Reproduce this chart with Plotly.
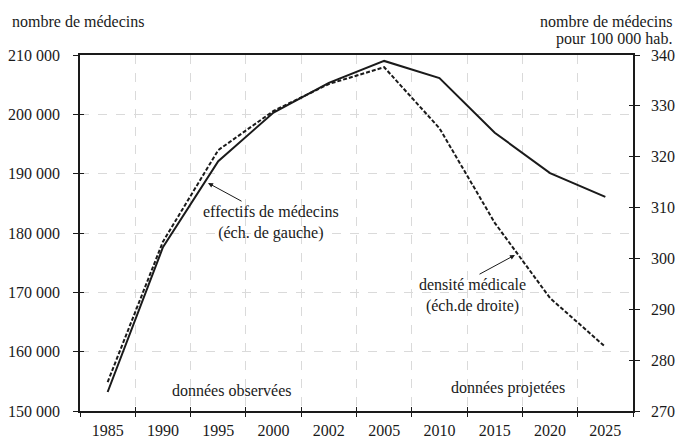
import plotly.graph_objects as go

years = ["1985", "1990", "1995", "2000", "2002", "2005", "2010", "2015", "2020", "2025"]
effectifs = [153200, 177600, 192100, 200300, 205300, 209000, 206100, 196900, 190100, 186100]
densite = [275.7, 303.3, 321.3, 329.0, 334.3, 337.6, 325.6, 307.0, 292.2, 282.6]

left_ticks = [150000, 160000, 170000, 180000, 190000, 200000, 210000]
left_text = ["150 000", "160 000", "170 000", "180 000", "190 000", "200 000", "210 000"]
right_ticks = [270, 280, 290, 300, 310, 320, 330, 340]

FONT = "Liberation Serif"
INK = "#1a1a1a"

# plot area in pixels (for annotation placement)
L, R, T, B = 80, 633, 55, 411
W, H = R - L, B - T


def px(x):
    return (x - L) / W


def py(y):
    return (B - y) / H


fig = go.Figure()
fig.add_trace(go.Scatter(x=years, y=effectifs, mode="lines", yaxis="y",
                         line=dict(color=INK, width=2), showlegend=False))
fig.add_trace(go.Scatter(x=years, y=densite, mode="lines", yaxis="y2",
                         line=dict(color=INK, width=2, dash="4px,2px"), showlegend=False))
# invisible traces for the tick-crossing overlay axes
fig.add_trace(go.Scatter(x=years, y=[None] * len(years), xaxis="x2", yaxis="y3",
                         showlegend=False, hoverinfo="skip"))
fig.add_trace(go.Scatter(x=years, y=[None] * len(years), xaxis="x2", yaxis="y4",
                         showlegend=False, hoverinfo="skip"))

axis_font = dict(family=FONT, size=16, color=INK)
GRID = "#dadada"

fig.update_layout(
    width=681, height=442,
    margin=dict(l=L, r=681 - R, t=T, b=442 - B, autoexpand=False),
    paper_bgcolor="white", plot_bgcolor="white",
    font=axis_font,
    xaxis=dict(type="category", categoryorder="array", categoryarray=years,
               range=[-0.5, len(years) - 0.5], tickson="boundaries",
               ticks="outside", ticklen=4, tickcolor=INK, tickwidth=1,
               ticklabelstandoff=4, automargin=False,
               showline=True, linecolor=INK, linewidth=1.5, mirror=True,
               showgrid=True, gridcolor=GRID, griddash="dash", gridwidth=1,
               tickfont=axis_font, zeroline=False),
    xaxis2=dict(type="category", categoryorder="array", categoryarray=years,
                range=[-0.5, len(years) - 0.5], tickson="boundaries",
                overlaying="x", side="bottom", anchor="y", automargin=False,
                ticks="inside", ticklen=4, tickcolor=INK, tickwidth=1,
                showticklabels=False, showgrid=False, showline=False, zeroline=False),
    yaxis=dict(range=[150000, 210000], tickvals=left_ticks, ticktext=left_text,
               ticks="outside", ticklen=5, tickcolor=INK, tickwidth=1,
               ticklabelstandoff=10, automargin=False,
               showline=True, linecolor=INK, linewidth=1.5,
               showgrid=True, gridcolor=GRID, griddash="dash", gridwidth=1,
               zeroline=False, tickfont=axis_font),
    yaxis2=dict(range=[270, 340], tickvals=right_ticks, overlaying="y", side="right",
                ticks="outside", ticklen=5, tickcolor=INK, tickwidth=1,
                ticklabelstandoff=8, automargin=False,
                showline=True, linecolor=INK, linewidth=1.5,
                showgrid=False, zeroline=False, tickfont=axis_font),
    yaxis3=dict(range=[150000, 210000], tickvals=left_ticks, overlaying="y", side="left",
                anchor="x", ticks="inside", ticklen=4, tickcolor=INK, tickwidth=1,
                automargin=False,
                showticklabels=False, showgrid=False, showline=False, zeroline=False),
    yaxis4=dict(range=[270, 340], tickvals=right_ticks, overlaying="y", side="right",
                anchor="x", ticks="inside", ticklen=4, tickcolor=INK, tickwidth=1,
                automargin=False,
                showticklabels=False, showgrid=False, showline=False, zeroline=False),
)

# vertical separator at 2005
fig.add_shape(type="line", xref="x", yref="paper", x0="2005", x1="2005", y0=0, y1=1,
              line=dict(color=INK, width=1.2))

ann_font = dict(family=FONT, size=16, color=INK)

# axis titles
fig.add_annotation(text="nombre de médecins", xref="paper", yref="paper",
                   x=px(11), y=py(22), xanchor="left", yanchor="middle",
                   showarrow=False, font=ann_font, borderpad=0)
fig.add_annotation(text="nombre de médecins", xref="paper", yref="paper",
                   x=px(673), y=py(21), xanchor="right", yanchor="middle",
                   showarrow=False, font=ann_font, borderpad=0)
fig.add_annotation(text="pour 100 000 hab.", xref="paper", yref="paper",
                   x=px(673), y=py(39), xanchor="right", yanchor="middle",
                   showarrow=False, font=ann_font, borderpad=0)

# series labels
fig.add_annotation(text="effectifs de médecins<br>(éch. de gauche)", xref="paper", yref="paper",
                   x=px(271), y=py(222), xanchor="center", yanchor="middle",
                   showarrow=False, font=ann_font)
fig.add_annotation(text="densité médicale<br>(éch.de droite)", xref="paper", yref="paper",
                   x=px(472), y=py(295), xanchor="center", yanchor="middle",
                   showarrow=False, font=ann_font)
fig.add_annotation(text="données observées", xref="paper", yref="paper",
                   x=px(232), y=py(390), xanchor="center", yanchor="middle",
                   showarrow=False, font=ann_font)
fig.add_annotation(text="données projetées", xref="paper", yref="paper",
                   x=px(508), y=py(388), xanchor="center", yanchor="middle",
                   showarrow=False, font=ann_font)

# arrows
fig.add_annotation(text="", xref="paper", yref="paper", x=px(208), y=py(183),
                   ax=35, ay=19, showarrow=True, arrowhead=2, arrowsize=1,
                   arrowwidth=1, arrowcolor=INK)
fig.add_annotation(text="", xref="paper", yref="paper", x=px(515), y=py(255),
                   ax=-37, ay=20, showarrow=True, arrowhead=2, arrowsize=1,
                   arrowwidth=1, arrowcolor=INK)

fig.write_html(
    "out.html",
    config={"displayModeBar": False},
    post_script=("document.body.style.margin='0';"
                 "document.body.style.overflow='hidden';"
                 "document.documentElement.style.overflow='hidden';"),
)
